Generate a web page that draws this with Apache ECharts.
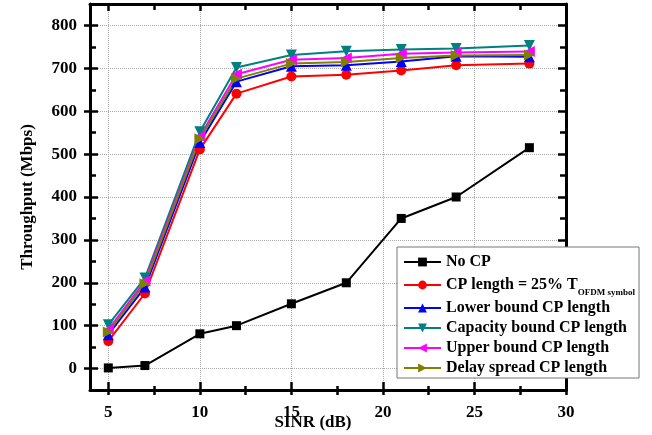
<!DOCTYPE html>
<html>
<head>
<meta charset="utf-8">
<script src="https://cdn.jsdelivr.net/npm/echarts@6/dist/echarts.min.js"></script>
<style>
html,body{margin:0;padding:0;background:#fff;}
#chart{width:652px;height:435px;}
</style>
</head>
<body>
<div id="chart"></div>
<script>
const sinr = [5, 7, 10, 12, 15, 18, 21, 24, 28];
const noCP = [1.5, 7, 81, 100, 151, 200, 350, 400, 515];
const cp25 = [64, 175, 511, 641, 681, 685, 695, 707, 711];
const lowerBound = [79, 190, 527, 669, 705, 707, 716, 728, 727];
const capacityBound = [102, 211, 552, 702, 731, 740, 744, 746, 753];
const upperBound = [91, 204, 541, 686, 720, 724, 734, 737, 739];
const delaySpread = [85, 198, 536, 676, 711, 715, 724, 730, 731];

const xMajor = [5, 10, 15, 20, 25, 30];
const xMinor = [7.5, 12.5, 17.5, 22.5, 27.5];
const yMajor = [0, 100, 200, 300, 400, 500, 600, 700, 800];
const yMinor = [50, 150, 250, 350, 450, 550, 650, 750];

const seriesNames = [
  'No CP',
  'CP length = 25% T',
  'Lower bound CP length',
  'Capacity bound CP length',
  'Upper bound CP length',
  'Delay spread CP length'
];

const FONT = 'Liberation Serif';
const pair = (xs, ys) => xs.map((x, i) => [x, ys[i]]);

function tick(vals, inside, len) {
  return {show: true, customValues: vals, inside: inside, length: len, lineStyle: {color: '#000', width: 2.5}};
}
function xAx(vals, inside, len, opts) {
  return Object.assign({
    type: 'value', min: 4, max: 30, position: 'bottom',
    axisLine: {show: true, onZero: false, lineStyle: {color: '#000', width: 0.1, opacity: 0}},
    axisTick: tick(vals, inside, len),
    axisLabel: {show: false},
    splitLine: {show: false}
  }, opts || {});
}
function yAx(vals, inside, len, opts) {
  return Object.assign({
    type: 'value', min: -50, max: 850, position: 'left',
    axisLine: {show: true, onZero: false, lineStyle: {color: '#000', width: 0.1, opacity: 0}},
    axisTick: tick(vals, inside, len),
    axisLabel: {show: false},
    splitLine: {show: false}
  }, opts || {});
}
const axLine = {show: true, onZero: false, lineStyle: {color: '#000', width: 3}};
const labelStyle = {fontFamily: FONT, fontWeight: 'bold', fontSize: 17, color: '#000'};

const chart = echarts.init(document.getElementById('chart'));

function mk(name, ys, color, symbol, size, rot) {
  return {
    name: name, type: 'line', data: pair(sinr, ys),
    symbol: symbol, symbolSize: size, symbolRotate: rot || 0,
    showAllSymbol: true,
    lineStyle: {color: color, width: 2},
    itemStyle: {color: color},
    emphasis: {disabled: true}
  };
}

chart.setOption({
  animation: false,
  grid: {left: 90, right: 86, top: 4, bottom: 45, outerBoundsMode: 'none'},
  xAxis: [
    xAx(xMajor, false, 5, {
      axisLine: axLine,
      axisLabel: Object.assign({show: true, customValues: xMajor, margin: 14}, labelStyle),
      splitLine: {show: true, lineStyle: {color: '#aaa', type: 'dotted', width: 1}},
      name: 'SINR (dB)', nameLocation: 'middle', nameGap: 24, nameMoveOverlap: false,
      nameTextStyle: {fontFamily: FONT, fontWeight: 'bold', fontSize: 17, color: '#000', padding: [0, 30, 0, 0]}
    }),
    xAx(xMajor, true, 8),
    xAx(xMinor, false, 5),
    xAx(xMinor, true, 4),
    xAx(xMajor, true, 7, {position: 'top', axisLine: axLine}),
    xAx(xMinor, true, 6, {position: 'top'})
  ],
  yAxis: [
    yAx(yMajor, false, 6, {
      axisLine: axLine,
      axisLabel: Object.assign({show: true, customValues: yMajor, margin: 13}, labelStyle),
      splitLine: {show: true, lineStyle: {color: '#aaa', type: 'dotted', width: 1}},
      name: 'Throughput (Mbps)', nameLocation: 'middle', nameGap: 54, nameMoveOverlap: false,
      nameTextStyle: {fontFamily: FONT, fontWeight: 'bold', fontSize: 17, color: '#000'}
    }),
    yAx(yMajor, true, 8),
    yAx(yMinor, true, 6),
    yAx(yMajor, true, 8, {position: 'right', axisLine: axLine}),
    yAx(yMinor, true, 6, {position: 'right'})
  ],
  legend: {
    show: true,
    orient: 'vertical',
    left: 397, top: 247,
    padding: [6, 4, 1, 6],
    itemGap: 2,
    itemWidth: 37, itemHeight: 11,
    backgroundColor: '#fff',
    borderColor: '#777', borderWidth: 1, borderRadius: 0,
    data: seriesNames,
    textStyle: {
      fontFamily: FONT, fontWeight: 'bold', fontSize: 16, color: '#000', lineHeight: 18,
      rich: {
        a: {fontFamily: FONT, fontWeight: 'bold', fontSize: 16, color: '#000', lineHeight: 18},
        s: {fontFamily: FONT, fontWeight: 'bold', fontSize: 9, color: '#000', lineHeight: 24, verticalAlign: 'bottom'}
      }
    },
    formatter: function (name) {
      if (name === seriesNames[1]) return '{a|' + name + '}{s|OFDM symbol}';
      return name;
    }
  },
  series: [
    mk(seriesNames[0], noCP, '#000000', 'rect', 9),
    mk(seriesNames[1], cp25, '#ff0000', 'circle', 10),
    mk(seriesNames[2], lowerBound, '#0000ff', 'triangle', 11),
    mk(seriesNames[3], capacityBound, '#008080', 'triangle', 11, 180),
    mk(seriesNames[4], upperBound, '#ff00ff', 'triangle', 11, 90),
    mk(seriesNames[5], delaySpread, '#808000', 'triangle', 11, -90)
  ]
});
</script>
</body>
</html>
